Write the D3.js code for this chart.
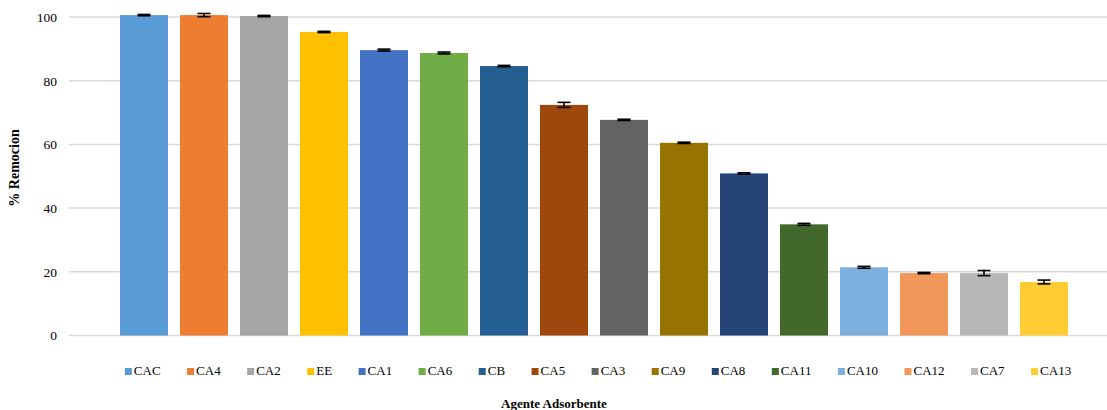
<!DOCTYPE html>
<html><head><meta charset="utf-8">
<script src="https://cdn.jsdelivr.net/npm/d3@7"></script>
<style>body{margin:0;background:#fff}svg{display:block}</style>
</head><body>
<svg id="c" width="1107" height="410"></svg>
<script>
const categories = ["CAC","CA4","CA2","EE","CA1","CA6","CB","CA5","CA3","CA9","CA8","CA11","CA10","CA12","CA7","CA13"];
const values = [100.6,100.6,100.3,95.3,89.6,88.7,84.6,72.4,67.7,60.5,50.9,34.9,21.4,19.6,19.6,16.8];
const errors = [0.2,0.5,0.2,0.2,0.3,0.3,0.2,0.8,0.2,0.2,0.2,0.3,0.3,0.2,0.8,0.6];
const colors = ["#5B9BD5","#ED7D31","#A5A5A5","#FFC000","#4472C4","#70AD47","#255E91","#9E480E","#636363","#997300","#264478","#43682B","#7CAFDD","#F1975A","#B7B7B7","#FFCD33"];
const yTicks = [0,20,40,60,80,100];
const yTitle = "% Remocion";
const xTitle = "Agente Adsorbente";

const svg = d3.select("#c");
const font = "'Liberation Serif','Times New Roman',serif";
const x = d3.scaleBand().domain(categories).range([96,1092]).paddingInner(0.2).paddingOuter(0.4);
const y = d3.scaleLinear().domain([0,100]).range([335.5,17]);

svg.append("g").selectAll("line").data(yTicks).join("line")
  .attr("x1",69).attr("x2",1107)
  .attr("y1",d=>y(d)).attr("y2",d=>y(d))
  .attr("stroke","#D9D9D9").attr("stroke-width",1.5);

const yAxis = d3.axisLeft(y).tickValues(yTicks).tickSize(0).tickPadding(0);
const ga = svg.append("g").attr("transform","translate(57,0)").call(yAxis);
ga.select(".domain").remove();
ga.selectAll("text").attr("font-family",font).attr("font-size",13.5).attr("fill","#000");

svg.append("g").selectAll("rect").data(categories).join("rect")
  .attr("x",d=>x(d)).attr("width",x.bandwidth())
  .attr("y",(d,i)=>y(values[i])).attr("height",(d,i)=>y(0)-y(values[i]))
  .attr("fill",(d,i)=>colors[i]);

const eg = svg.append("g").attr("stroke","#000").attr("stroke-width",1.6);
categories.forEach((c,i)=>{
  const cx = x(c)+x.bandwidth()/2;
  const hi = y(values[i]+errors[i]), lo = y(values[i]-errors[i]);
  eg.append("line").attr("x1",cx).attr("x2",cx).attr("y1",hi).attr("y2",lo);
  eg.append("line").attr("x1",cx-6.5).attr("x2",cx+6.5).attr("y1",hi).attr("y2",hi);
  eg.append("line").attr("x1",cx-6.5).attr("x2",cx+6.5).attr("y1",lo).attr("y2",lo);
});

svg.append("text").attr("transform","translate(19,168) rotate(-90)")
  .attr("text-anchor","middle").attr("font-family",font).attr("font-size",14)
  .attr("font-weight","bold").text(yTitle);

svg.append("text").attr("x",554).attr("y",408).attr("text-anchor","middle")
  .attr("font-family",font).attr("font-size",13).attr("font-weight","bold").text(xTitle);

const lg = svg.append("g");
const items = lg.selectAll("g").data(categories).join("g");
items.append("rect").attr("width",7).attr("height",7).attr("y",-6).attr("fill",(d,i)=>colors[i]);
items.append("text").attr("x",9).attr("y",0).attr("dy","0.5px").attr("font-family",font).attr("font-size",13).attr("fill","#000").text(d=>d);
const gap = 26.5;
let pos = 0;
items.each(function(){
  const t = d3.select(this).select("text").node().getComputedTextLength();
  d3.select(this).attr("transform",`translate(${pos},0)`);
  pos += 9 + t + gap;
});
const total = pos - gap;
lg.attr("transform",`translate(${598 - total/2},374)`);
</script>
</body></html>
